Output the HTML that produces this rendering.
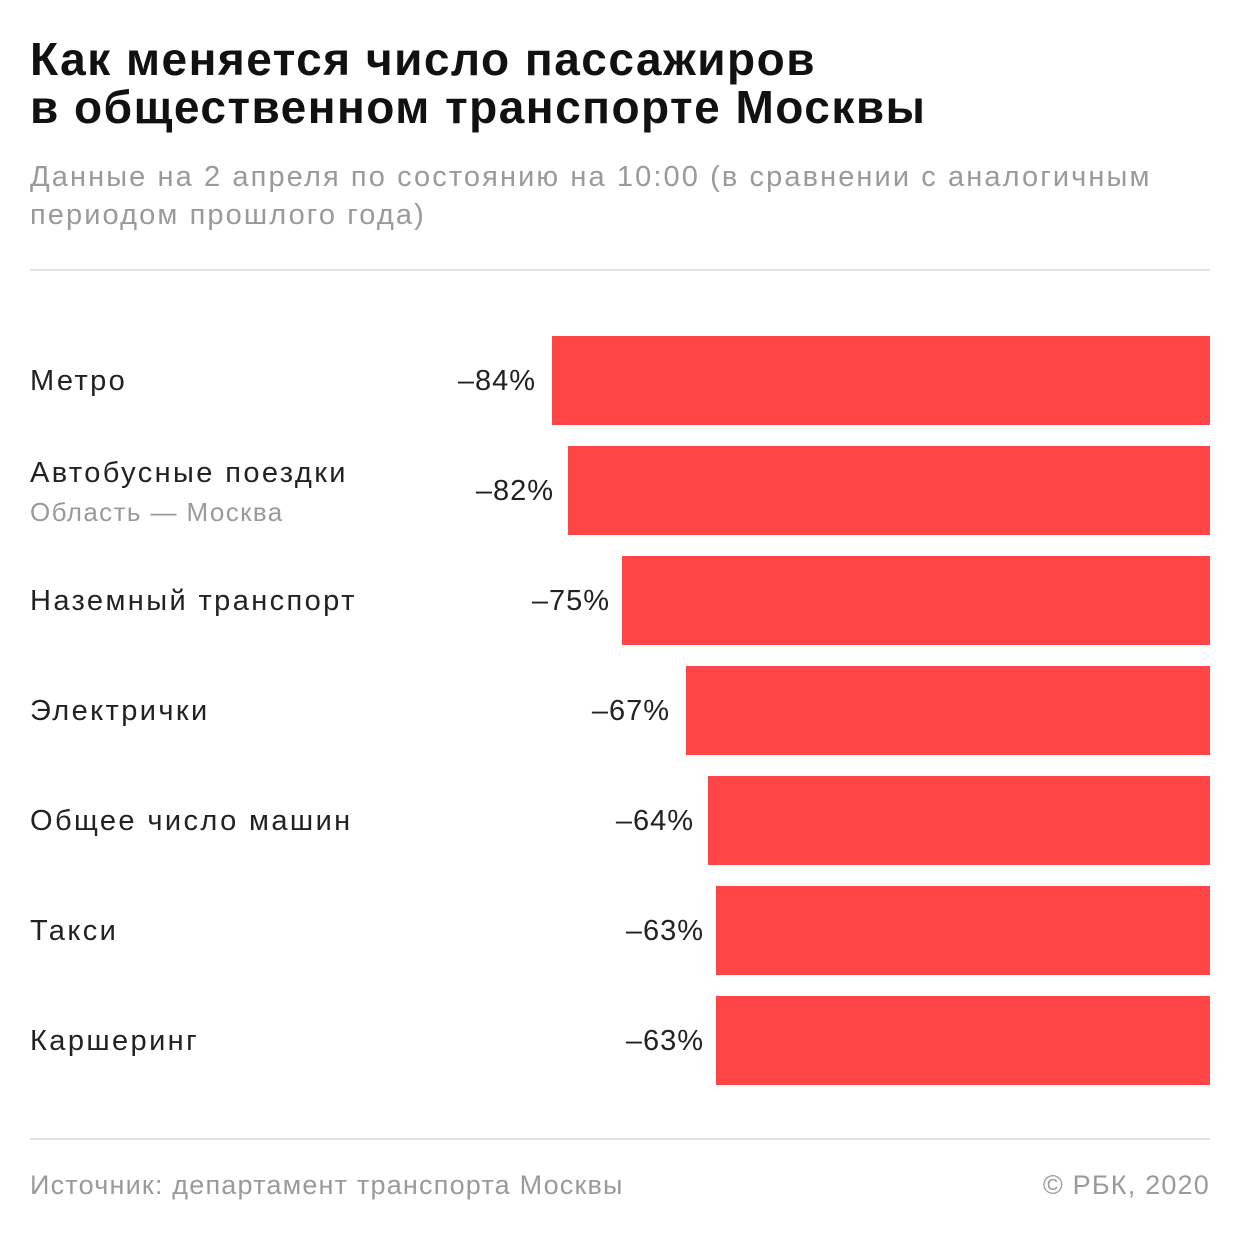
<!DOCTYPE html>
<html><head><meta charset="utf-8"><style>
body{margin:0;background:#fff;width:1240px;height:1240px;position:relative;overflow:hidden;font-family:"Liberation Sans","DejaVu Sans",sans-serif}
.t{position:absolute;left:30px;font-weight:bold;font-size:46px;color:#111;letter-spacing:1.5px;line-height:48px}
.s{position:absolute;left:30px;font-size:29px;color:#9a9a9a;line-height:38px;letter-spacing:2.1px}
.hr{position:absolute;left:30px;width:1180px;height:2px;background:#e3e3e3}
.bar{position:absolute;right:30px;height:89px;background:#ff4545}
.lab{position:absolute;left:30px;font-size:29px;color:#222;line-height:34px;letter-spacing:2.4px}
.sub{position:absolute;left:30px;font-size:26px;color:#9a9a9a;letter-spacing:1.4px}
.val{position:absolute;font-size:29px;color:#222;text-align:right;width:150px;line-height:34px;letter-spacing:1px}
.f{position:absolute;top:1170px;font-size:27px;color:#9a9a9a;letter-spacing:1.2px}
</style></head><body>
<div class="t" style="top:35px">Как меняется число пассажиров<br>в общественном транспорте Москвы</div>
<div class="s" style="top:158px">Данные на 2 апреля по состоянию на 10:00 (в сравнении с аналогичным<br>периодом прошлого года)</div>
<div class="hr" style="top:269px"></div>

<div class="bar" style="top:336px;left:552px"></div>
<div class="lab" style="top:364px">Метро</div>
<div class="val" style="top:364px;left:386px">–84%</div>

<div class="bar" style="top:446px;left:568px"></div>
<div class="lab" style="top:456px">Автобусные поездки</div>
<div class="sub" style="top:497px">Область — Москва</div>
<div class="val" style="top:474px;left:404px">–82%</div>

<div class="bar" style="top:556px;left:622px"></div>
<div class="lab" style="top:584px">Наземный транспорт</div>
<div class="val" style="top:584px;left:460px">–75%</div>

<div class="bar" style="top:666px;left:686px"></div>
<div class="lab" style="top:694px">Электрички</div>
<div class="val" style="top:694px;left:520px">–67%</div>

<div class="bar" style="top:776px;left:708px"></div>
<div class="lab" style="top:804px">Общее число машин</div>
<div class="val" style="top:804px;left:544px">–64%</div>

<div class="bar" style="top:886px;left:716px"></div>
<div class="lab" style="top:914px">Такси</div>
<div class="val" style="top:914px;left:554px">–63%</div>

<div class="bar" style="top:996px;left:716px"></div>
<div class="lab" style="top:1024px">Каршеринг</div>
<div class="val" style="top:1024px;left:554px">–63%</div>

<div class="hr" style="top:1138px"></div>
<div class="f" style="left:30px">Источник: департамент транспорта Москвы</div>
<div class="f" style="right:30px">© РБК, 2020</div>
</body></html>
